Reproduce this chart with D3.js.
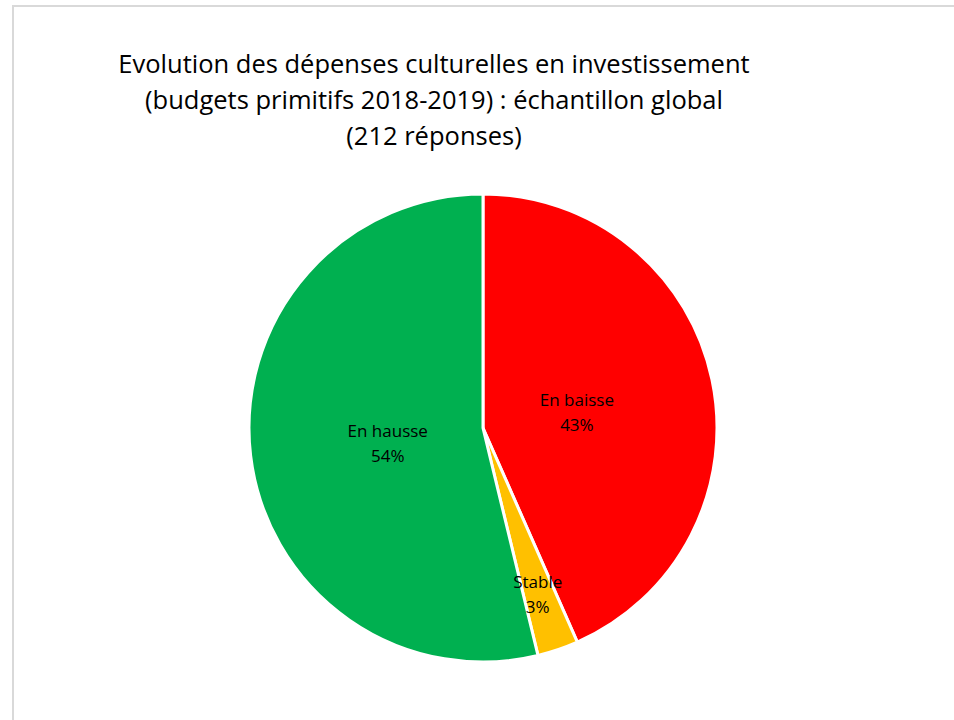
<!DOCTYPE html>
<head>
<meta charset="utf-8">
<script src="https://d3js.org/d3.v7.min.js"></script>
<style>
    body { margin: 0; background: #fff; }
    text { font-family: "Open Sans", sans-serif; font-variant-ligatures: none; }
</style>
</head>
<body>
<div id="container"></div>
<script>
    // données
    var categories = ['En baisse', 'Stable', 'En hausse'];
    var values = [92, 6, 114];
    var pctLabels = ['43%', '3%', '54%'];
    var colors = ['#FF0000', '#FFC000', '#00B050'];
    var titleLines = ['Evolution des dépenses culturelles en investissement',
                      '(budgets primitifs 2018-2019) : échantillon global',
                      '(212 réponses)'];

    var width = 954, height = 720;
    var svg = d3.select('#container').append('svg').attr('width', width).attr('height', height);

    // cadre gris
    svg.append('rect').attr('x', 13).attr('y', 6).attr('width', 960).attr('height', 730)
        .attr('fill', 'none').attr('stroke', '#d9d9d9').attr('stroke-width', 2);

    // titre
    svg.append('g').selectAll('text').data(titleLines).enter().append('text')
        .attr('x', 434).attr('y', (d, i) => 73 + i * 36)
        .attr('text-anchor', 'middle').attr('font-size', 25.5).attr('fill', '#000')
        .text(d => d);

    var cx = 483, cy = 428, r = 234;
    var g = svg.append('g').attr('transform', 'translate(' + cx + ',' + cy + ')');

    var pie = d3.pie().sort(null).value(d => d.v);
    var data = pie(categories.map((c, i) => ({c: c, v: values[i], p: pctLabels[i], col: colors[i]})));
    var arc = d3.arc().innerRadius(0).outerRadius(r);

    g.selectAll('path').data(data).enter().append('path')
        .attr('d', arc)
        .attr('fill', d => d.data.col)
        .attr('stroke', '#fff').attr('stroke-width', 3).attr('stroke-linejoin', 'round');

    // étiquettes
    var innerArc = d3.arc().innerRadius(r * 0.41).outerRadius(r * 0.41);
    var outerArc = d3.arc().innerRadius(r * 0.73).outerRadius(r * 0.73);
    var lbl = g.selectAll('.lbl').data(data).enter().append('text')
        .attr('class', 'lbl')
        .attr('text-anchor', 'middle').attr('font-size', 17).attr('fill', '#000')
        .attr('transform', d => {
            var c = d.data.c === 'Stable' ? outerArc.centroid(d) : innerArc.centroid(d);
            return 'translate(' + c[0] + ',' + c[1] + ')';
        });
    lbl.append('tspan').attr('x', 0).attr('dy', -2).text(d => d.data.c);
    lbl.append('tspan').attr('x', 0).attr('dy', 25).text(d => d.data.p);
</script>
</body>
